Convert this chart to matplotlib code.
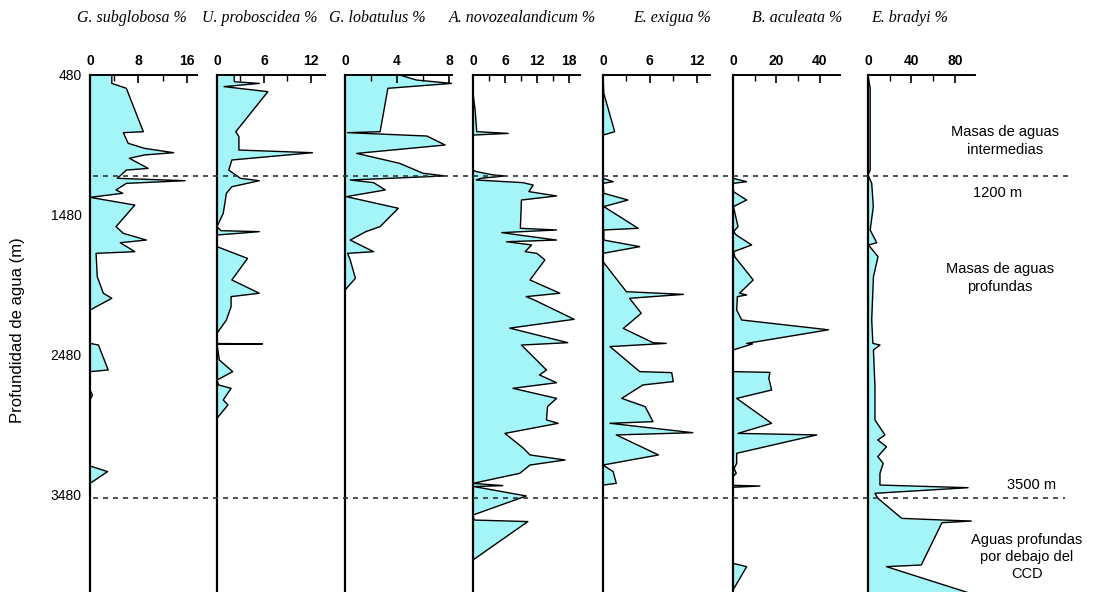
import numpy as np
import matplotlib
matplotlib.use("Agg")
import matplotlib.pyplot as plt

# depth (m) / percentage pairs
subglobosa_d = [480, 540, 575, 885, 892, 968, 1004, 1035, 1051, 1075, 1147, 1159, 1199, 1218, 1235, 1254,
                1301, 1325, 1354, 1409, 1563, 1611, 1659, 1678, 1742, 1754, 1921, 2039, 2075, 2159,
                2397, 2409, 2587, 2599, 2730, 2766, 2801, 3273, 3313, 3397, 4180]
subglobosa_v = [3.6, 3.6, 6.0, 8.8, 5.5, 6.3, 9.0, 13.8, 9.0, 6.5, 9.6, 6.0, 5.0, 4.5, 15.7, 6.0,
                4.3, 5.4, 0.0, 7.4, 4.3, 5.5, 9.3, 5.0, 7.4, 1.0, 1.2, 2.2, 3.6, 0.0,
                0.0, 1.4, 3.0, 0.0, 0.0, 0.4, 0.0, 0.0, 2.9, 0.0, 0.0]

proboscidea_d = [480, 528, 540, 563, 599, 885, 920, 1016, 1035, 1087, 1159, 1218, 1235, 1278, 1325, 1468,
                 1563, 1592, 1599, 1623, 1706, 1790, 1944, 2039, 2063, 2135, 2230, 2325, 2398, 2401,
                 2404, 2516, 2599, 2659, 2694, 2718, 2801, 2837, 2932, 4180]
proboscidea_v = [2.2, 2.2, 5.4, 0.9, 6.5, 2.4, 2.8, 2.8, 12.2, 1.9, 1.5, 3.0, 5.4, 1.9, 1.2, 0.8,
                 0.0, 0.5, 5.4, 0.0, 0.0, 3.9, 1.9, 5.4, 1.8, 1.8, 1.2, 0.0, 0.0, 5.8,
                 0.0, 0.3, 2.0, 0.0, 0.2, 1.8, 0.8, 1.4, 0.0, 0.0]

lobatulus_d = [480, 516, 540, 575, 885, 892, 916, 980, 1040, 1111, 1182, 1201, 1230, 1249, 1301, 1349,
               1432, 1563, 1599, 1659, 1742, 1754, 1801, 1932, 2016, 4180]
lobatulus_v = [4.2, 5.5, 8.2, 3.3, 2.7, 0.2, 6.3, 7.7, 0.9, 4.2, 6.0, 7.7, 0.4, 2.2, 3.1, 0.1,
               4.1, 2.7, 1.6, 0.4, 2.2, 0.2, 0.4, 0.8, 0.0, 0.0]

novozeal_d = [480, 611, 730, 885, 897, 909, 1159, 1170, 1194, 1201, 1218, 1230, 1249, 1266, 1313, 1344,
              1373, 1575, 1587, 1606, 1630, 1659, 1671, 1694, 1742, 1754, 1801, 1944, 2039, 2063, 2087,
              2225, 2288, 2392, 2409, 2587, 2623, 2678, 2718, 2790, 2849, 2944, 2968, 3040, 3147, 3194,
              3230, 3266, 3325, 3397, 3413, 3420, 3487, 3623, 3659, 3670, 3944, 4180]
novozeal_v = [0.0, 0.0, 0.4, 0.7, 6.6, 0.0, 0.0, 0.6, 3.8, 6.0, 1.5, 0.6, 9.4, 11.3, 10.5, 15.7,
              9.1, 8.9, 15.7, 5.4, 10.0, 15.7, 6.3, 11.0, 9.8, 12.0, 13.5, 10.7, 16.3, 10.0, 11.5,
              19.0, 6.9, 17.8, 9.1, 13.8, 12.5, 15.7, 7.5, 15.7, 14.0, 13.8, 16.0, 6.0, 9.5, 10.7,
              17.3, 10.7, 8.8, 0.0, 5.6, 0.2, 10.0, 0.0, 0.2, 10.3, 0.0, 0.0]

exigua_d = [480, 611, 885, 909, 1218, 1242, 1254, 1325, 1373, 1420, 1575, 1587, 1659, 1706, 1754, 1813,
            1921, 2028, 2047, 2075, 2182, 2290, 2392, 2397, 2420, 2599, 2606, 2670, 2694, 2790, 2849,
            2956, 2968, 3035, 3051, 3194, 3266, 3313, 3397, 3409, 4180]
exigua_v = [0.0, 0.1, 1.5, 0.0, 0.0, 1.3, 0.0, 0.1, 3.2, 0.1, 4.5, 0.1, 0.1, 4.7, 0.0, 0.0,
            1.5, 3.0, 10.3, 3.4, 4.9, 2.6, 6.4, 8.1, 0.9, 4.7, 8.8, 9.0, 5.1, 2.4, 5.4,
            6.4, 0.9, 11.5, 1.7, 7.1, 0.0, 1.3, 1.7, 0.0, 0.0]

aculeata_d = [480, 1218, 1242, 1254, 1313, 1373, 1420, 1563, 1599, 1623, 1694, 1742, 1778, 1944, 2039,
              2051, 2063, 2159, 2230, 2300, 2397, 2401, 2444, 2599, 2604, 2647, 2730, 2790, 2968, 3040,
              3051, 3182, 3254, 3290, 3325, 3349, 3411, 3416, 3425, 3968, 3992, 4159, 4180]
aculeata_v = [0.0, 0.0, 6.3, 0.0, 0.2, 6.3, 0.2, 2.3, 0.3, 1.5, 8.6, 0.3, 0.8, 9.3, 3.0,
              6.3, 2.0, 1.7, 4.0, 44.0, 6.3, 9.0, 0.0, 0.0, 17.0, 16.5, 17.8, 1.7, 17.8, 2.3,
              38.6, 1.7, 1.7, 0.5, 1.5, 0.0, 0.0, 12.4, 0.0, 0.0, 6.3, 0.0, 0.0]

bradyi_d = [480, 575, 1159, 1194, 1254, 1420, 1587, 1678, 1694, 1778, 1921, 2230, 2397, 2409, 2444,
            2706, 2944, 3051, 3087, 3135, 3206, 3254, 3325, 3409, 3428, 3468, 3504, 3647, 3659, 3666,
            3678, 3980, 3992, 4175]
bradyi_v = [0.0, 2.0, 2.0, 0.0, 3.4, 4.9, 2.0, 8.0, 0.5, 9.2, 5.0, 3.4, 4.5, 11.0, 5.0,
            6.4, 6.4, 15.6, 9.0, 17.0, 9.0, 14.0, 11.0, 11.0, 92.0, 6.4, 9.2, 31.0, 69.0, 95.0,
            68.0, 49.0, 17.0, 91.0]

names = ["G. subglobosa %", "U. proboscidea %", "G. lobatulus %", "A. novozealandicum %",
         "E. exigua %", "B. aculeata %", "E. bradyi %"]
depths = [subglobosa_d, proboscidea_d, lobatulus_d, novozeal_d, exigua_d, aculeata_d, bradyi_d]
values = [subglobosa_v, proboscidea_v, lobatulus_v, novozeal_v, exigua_v, aculeata_v, bradyi_v]
xmax = [17.66, 13.8, 8.23, 20.1, 13.7, 49.3, 98.4]
major = [[0, 8, 16], [0, 6, 12], [0, 4, 8], [0, 6, 12, 18], [0, 6, 12], [0, 20, 40], [0, 40, 80]]
minor_step = [4, 3, 2, 3, 3, 10, 20]

depth_ticks = [480, 1480, 2480, 3480]
boundaries = [1200, 3500]

W, H = 1099, 592
fill_col = "#a3f5f7"
ytop, ybot = 480, 4173

fig = plt.figure(figsize=(W / 100, H / 100), dpi=100)

# panel left/right edges in pixels
edges = [(90, 197), (217, 325), (345, 452), (473, 580), (603, 710), (733, 840), (868, 975)]
title_x = [132, 260, 377, 522, 672, 797, 910]
top_px = 75

for i, (l, r) in enumerate(edges):
    ax = fig.add_axes([l / W, 0, (r - l) / W, 1 - top_px / H])
    d = np.array(depths[i])
    v = np.array(values[i])
    ax.fill_betweenx(d, 0, v, color=fill_col, lw=0)
    ax.plot(v, d, color="black", lw=1.0)
    ax.set_xlim(0, xmax[i])
    ax.set_ylim(ybot, ytop)
    for s in ["right", "bottom"]:
        ax.spines[s].set_visible(False)
    ax.spines["left"].set_linewidth(1.6)
    ax.spines["top"].set_linewidth(1.4)
    ax.xaxis.tick_top()
    ax.set_xticks(major[i])
    ax.set_xticks(np.arange(0, xmax[i], minor_step[i]), minor=True)
    ax.tick_params(axis="x", which="major", direction="in", length=6, width=1.2, pad=5,
                   labelsize=10)
    ax.tick_params(axis="x", which="minor", direction="in", length=4, width=1.0)
    for t in ax.get_xticklabels():
        t.set_fontweight("bold")
        t.set_family("Liberation Sans")
    if i == 0:
        ax.set_yticks(depth_ticks)
        ax.set_yticklabels([str(t) for t in depth_ticks], fontsize=10, family="Liberation Sans")
        ax.tick_params(axis="y", length=0, pad=6)
    else:
        ax.set_yticks([])
    ax.patch.set_alpha(0)
    fig.text(title_x[i] / W, 1 - 18 / H, names[i], ha="center", va="center",
             family="Liberation Serif", style="italic", fontsize=11.5)

# dashed water-mass boundaries over all panels
ov = fig.add_axes([0, 0, 1, 1 - top_px / H])
ov.set_xlim(0, W)
ov.set_ylim(ybot, ytop)
ov.axis("off")
for b, x1 in zip(boundaries, [1068, 1065]):
    ov.plot([93, x1], [b, b], color="#333333", lw=1.2, ls=(0, (3, 3)))

def ft(x, y, s, **kw):
    fig.text(x / W, 1 - y / H, s, ha="center", va="center", family="Liberation Sans",
             fontsize=10.5, **kw)

ft(1005, 141, "Masas de aguas\nintermedias", linespacing=1.3)
ft(998, 193, "1200 m")
ft(1000, 278, "Masas de aguas\nprofundas", linespacing=1.3)
ft(1032, 485, "3500 m")
ft(1027, 557, "Aguas profundas\npor debajo del\nCCD", linespacing=1.3)
fig.text(18 / W, 1 - 330 / H, "Profundidad de agua (m)", rotation=90, ha="center", va="center",
         family="Liberation Sans", fontsize=12)

fig.savefig("out.png", dpi=100)
